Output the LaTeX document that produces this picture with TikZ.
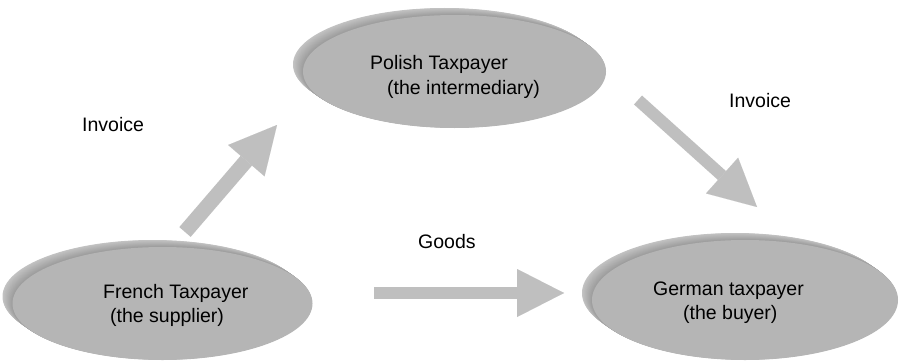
\documentclass[tikz,border=0pt]{standalone}
\usepackage{fontspec}
\setmainfont{Liberation Sans}
\usetikzlibrary{shapes.geometric,arrows.meta}
\tikzset{
  disc/.style={ellipse, fill=black!29, draw=none, inner sep=0pt},
  lbl/.style={anchor=base west, inner sep=0pt, font=\fontsize{19.5}{24.5}\selectfont},
  blockarrow/.style={draw=black!25, line cap=butt, line width=#1,
    -{Triangle[length=47pt, width=48pt, line width=0.01pt, fill=black!25, color=black!25]}},
}
\newcommand{\rimdisc}[4]{% center x, center y, rx, ry
  \foreach \i in {20,...,1}{
    \pgfmathsetmacro{\shade}{23+0.8*(20-\i)}
    \fill[black!\shade] (#1-0.5*\i,#2-0.35*\i) ellipse [x radius=#3, y radius=#4];
  }
}
\begin{document}
\begin{tikzpicture}[x=1pt,y=-1pt]
\useasboundingbox (0,0) rectangle (901,361);
\fill[white] (0,0) rectangle (901,361);

% Polish
\rimdisc{454.5}{71.5}{151.5}{56.5}
\node[disc, minimum width=303pt, minimum height=113pt] (pl) at (454.5,71.5) {};
% French
\rimdisc{162.5}{303.5}{150}{56.5}
\node[disc, minimum width=300pt, minimum height=113pt] (fr) at (162.5,303.5) {};
% German
\rimdisc{745}{300}{153}{60}
\node[disc, minimum width=306pt, minimum height=120pt] (de) at (745,300) {};

\node[lbl] (pltext) at (370,70) {\begin{tabular}[t]{@{}l@{}}Polish Taxpayer\\\hspace*{17pt}(the intermediary)\end{tabular}};
\node[lbl] (frtext) at (103,298) {\begin{tabular}[t]{@{}l@{}}French Taxpayer\\\hspace*{7pt}(the supplier)\end{tabular}};
\node[lbl] (detext) at (653,295) {\begin{tabular}[t]{@{}l@{}}German taxpayer\\\hspace*{30pt}(the buyer)\end{tabular}};

\node[lbl] (inv1) at (82,131) {Invoice};
\node[lbl] (inv2) at (729,107) {Invoice};
\node[lbl] (goods) at (418,248) {Goods};

\coordinate (a1s) at (185,232);
\coordinate (a1e) at (277,125);
\coordinate (a2s) at (374,293);
\coordinate (a2e) at (564,293);
\coordinate (a3s) at (638,100);
\coordinate (a3e) at (757,207);
\draw[blockarrow=15pt] (a1s) -- (a1e);
\draw[blockarrow=12pt] (a2s) -- (a2e);
\draw[blockarrow=12pt] (a3s) -- (a3e);
\end{tikzpicture}
\end{document}
